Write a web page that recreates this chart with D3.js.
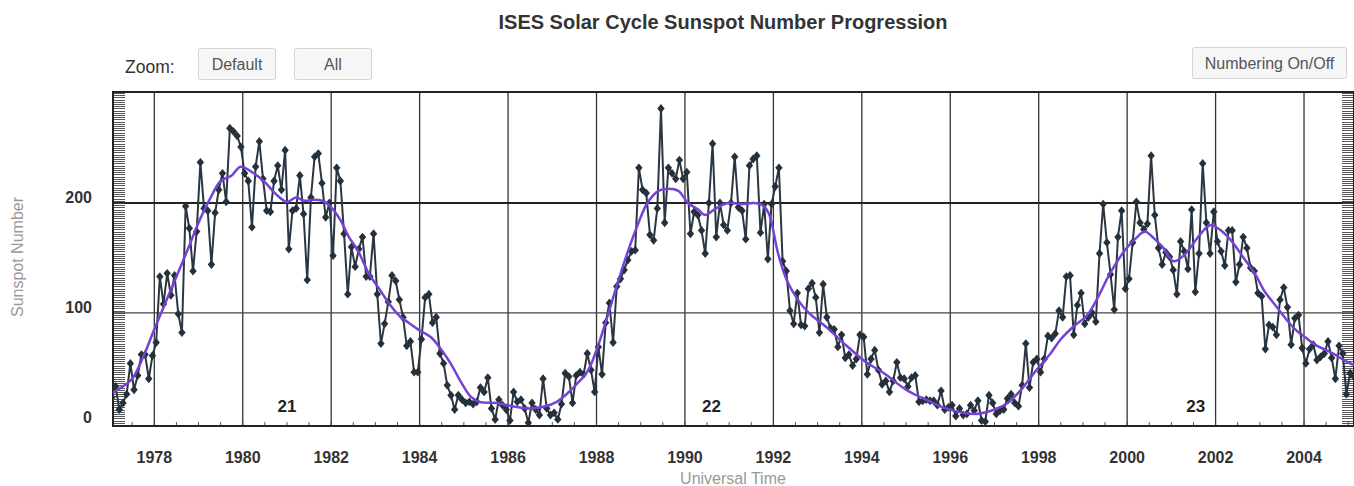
<!DOCTYPE html>
<html>
<head>
<meta charset="utf-8">
<script src="https://cdn.jsdelivr.net/npm/d3@7"></script>
<style>
  body { margin: 0; background: #fff; }
  svg text { font-family: "Liberation Sans", Arial, sans-serif; }
</style>
</head>
<body>
<svg id="chart" width="1354" height="486"></svg>
<script>
"use strict";

// monthly sunspot numbers, one row per year, starting Jan 1977
const startYear = 1977;
const monthlySunspots = [
    23, 33, 12, 18, 26, 54, 30, 43, 62, 62, 40, 61,            // 1977
    73, 133, 108, 136, 116, 134, 99, 82, 197, 177, 138, 174,   // 1978
    237, 195, 193, 144, 191, 212, 227, 201, 268, 265, 261, 251,// 1979
    227, 220, 178, 233, 256, 222, 193, 192, 220, 234, 212, 248,// 1980
    158, 193, 195, 225, 190, 130, 205, 242, 245, 218, 187, 200,// 1981
    152, 232, 220, 172, 117, 160, 142, 158, 169, 133, 133, 172,// 1982
    117, 72, 90, 110, 134, 129, 112, 96, 70, 74, 46, 46,       // 1983
    76, 114, 117, 91, 96, 63, 54, 34, 25, 12, 25, 21,          // 1984
    18, 19, 17, 19, 32, 28, 41, 13, 3, 21, 16, 12,             // 1985
    2, 28, 19, 21, 13, 0, 18, 12, 7, 40, 13, 7,                // 1986
    9, 3, 17, 45, 42, 18, 43, 46, 44, 63, 48, 28,              // 1987
    69, 44, 91, 109, 73, 124, 131, 139, 148, 156, 157, 232,    // 1988
    212, 209, 171, 166, 195, 286, 182, 232, 227, 222, 239, 222,// 1989
    228, 172, 192, 189, 175, 154, 200, 254, 169, 200, 180, 175,// 1990
    200, 242, 196, 193, 167, 234, 240, 243, 173, 199, 149, 199,// 1991
    215, 232, 147, 138, 102, 90, 118, 89, 88, 122, 127, 114,   // 1992
    82, 126, 96, 86, 85, 69, 80, 59, 62, 52, 58, 80,           // 1993
    78, 44, 58, 66, 48, 35, 38, 28, 38, 55, 41, 40,            // 1994
    33, 41, 43, 19, 20, 21, 20, 20, 16, 29, 12, 14,            // 1995
    16, 6, 13, 7, 8, 16, 11, 20, 2, 1, 25, 18,                 // 1996
    8, 11, 12, 22, 26, 18, 15, 34, 72, 32, 55, 58,             // 1997
    46, 58, 79, 77, 81, 102, 96, 133, 134, 80, 107, 118,       // 1998
    90, 96, 100, 92, 154, 199, 164, 135, 103, 169, 193, 122,   // 1999
    131, 164, 201, 182, 176, 181, 243, 189, 159, 144, 155, 151,// 2000
    139, 117, 165, 156, 140, 194, 119, 154, 236, 182, 154, 192,// 2001
    165, 156, 143, 175, 175, 128, 144, 169, 159, 141, 138, 118,// 2002
    115, 67, 89, 87, 80, 112, 123, 105, 71, 95, 98, 68,        // 2003
    54, 67, 71, 57, 60, 63, 74, 59, 40, 70, 63, 26,            // 2004
    45, 42                                                     // 2005
];

// smoothed (13-month) curve
const smoothYears = [
    1977.0, 1977.25, 1977.5, 1977.75, 1978.0, 1978.25, 1978.5, 1978.75, 1979.0, 1979.25,
    1979.5, 1979.75, 1979.95, 1980.25, 1980.5, 1980.75, 1981.0, 1981.2, 1981.4, 1981.6,
    1981.8, 1982.0, 1982.2, 1982.4, 1982.6, 1982.85, 1983.1, 1983.3, 1983.55, 1983.75,
    1984.0, 1984.25, 1984.5, 1984.7, 1984.95, 1985.15, 1985.35, 1985.75, 1986.1, 1986.5,
    1986.85, 1987.1, 1987.35, 1987.55, 1987.8, 1988.0, 1988.25, 1988.5, 1988.72, 1988.95,
    1989.15, 1989.4, 1989.6, 1989.85, 1990.07, 1990.3, 1990.45, 1990.7, 1990.97, 1991.3,
    1991.55, 1991.75, 1991.9, 1992.1, 1992.3, 1992.55, 1992.8, 1993.2, 1993.6, 1994.1,
    1994.5, 1995.0, 1995.5, 1995.9, 1996.3, 1996.6, 1997.0, 1997.3, 1997.6, 1997.95,
    1998.25, 1998.5, 1998.8, 1999.1, 1999.35, 1999.6, 1999.95, 2000.2, 2000.4, 2000.6,
    2000.8, 2001.05, 2001.3, 2001.55, 2001.75, 2001.9, 2002.15, 2002.35, 2002.6, 2002.9,
    2003.1, 2003.35, 2003.6, 2003.8, 2004.05, 2004.25, 2004.5, 2004.7, 2004.9, 2005.15
];
const smoothValues = [
    26, 32, 40, 60, 85, 109, 133, 157, 182, 203,
    220, 225, 233, 227, 219, 208, 201, 205, 202, 203,
    202, 196, 185, 169, 157, 136, 121, 109, 97, 91,
    84, 78, 66, 54, 36, 24, 19, 18, 15, 13,
    15, 19, 27, 35, 47, 66, 97, 130, 157, 182,
    200, 211, 213, 211, 200, 194, 189, 195, 200, 199,
    200, 198, 190, 155, 130, 112, 100, 87, 72, 55,
    45, 30, 20, 13, 9, 8, 12, 18, 30, 48,
    62, 76, 88, 98, 115, 135, 157, 168, 174, 168,
    160, 147, 153, 166, 176, 180, 174, 166, 152, 135,
    120, 107, 94, 85, 77, 71, 66, 62, 57, 52
];

const cycleNames = ["21", "22", "23"];
const cycleYears = [1981.0, 1990.6, 2001.55];

const xTickYears = [1978, 1980, 1982, 1984, 1986, 1988, 1990, 1992, 1994, 1996, 1998, 2000, 2002, 2004];
const yTickValues = [0, 100, 200];

const plot = { left: 113, right: 1354, top: 92, bottom: 426 };
const svg = d3.select("#chart");

const xScale = d3.scaleLinear().domain([1977.066, 2005.13]).range([plot.left, plot.right]);
const yScale = d3.scaleLinear().domain([-3, 301]).range([plot.bottom, plot.top]);

// title and controls
svg.append("text")
    .attr("x", 723).attr("y", 29)
    .attr("text-anchor", "middle")
    .attr("font-size", 20).attr("font-weight", "bold").attr("fill", "#333")
    .text("ISES Solar Cycle Sunspot Number Progression");

svg.append("text")
    .attr("x", 125).attr("y", 73)
    .attr("font-size", 17.5).attr("fill", "#333")
    .text("Zoom:");

function addButton(x, y, w, h, label) {
    let g = svg.append("g");
    g.append("rect")
        .attr("x", x).attr("y", y).attr("width", w).attr("height", h)
        .attr("rx", 2)
        .attr("fill", "#f6f6f6").attr("stroke", "#d4d4d4");
    g.append("text")
        .attr("x", x + w / 2).attr("y", y + h / 2 + 5.5)
        .attr("text-anchor", "middle")
        .attr("font-size", 16).attr("fill", "#555")
        .text(label);
}
addButton(198.5, 48.5, 77, 31, "Default");
addButton(294.5, 48.5, 77, 31, "All");
addButton(1192.5, 47.5, 154, 31, "Numbering On/Off");

// gridlines
svg.append("g")
    .selectAll("line")
    .data(xTickYears)
    .join("line")
        .attr("x1", d => xScale(d)).attr("x2", d => xScale(d))
        .attr("y1", plot.top).attr("y2", plot.bottom)
        .attr("stroke", "#333").attr("stroke-width", 1.3);

svg.append("g")
    .selectAll("line")
    .data(yTickValues.filter(v => v > 0))
    .join("line")
        .attr("x1", plot.left).attr("x2", plot.right)
        .attr("y1", d => yScale(d)).attr("y2", d => yScale(d))
        .attr("stroke", d => d == 200 ? "#222" : "#444")
        .attr("stroke-width", d => d == 200 ? 2 : 1.2);

// minor ticks
const minorY = d3.range(0, 301, 2);
const tickG = svg.append("g").attr("stroke", "#444").attr("stroke-width", 0.9);
tickG.selectAll("line.l")
    .data(minorY)
    .join("line")
        .attr("class", "l")
        .attr("x1", plot.left).attr("x2", plot.left + 12)
        .attr("y1", d => Math.round(yScale(d)) + 0.5).attr("y2", d => Math.round(yScale(d)) + 0.5);
tickG.selectAll("line.r")
    .data(minorY)
    .join("line")
        .attr("class", "r")
        .attr("x1", plot.right - 12).attr("x2", plot.right)
        .attr("y1", d => Math.round(yScale(d)) + 0.5).attr("y2", d => Math.round(yScale(d)) + 0.5);

const minorX = d3.range(1977.5, 2005.1, 0.5);
tickG.selectAll("line.b")
    .data(minorX)
    .join("line")
        .attr("class", "b")
        .attr("x1", d => xScale(d)).attr("x2", d => xScale(d))
        .attr("y1", plot.bottom - 4).attr("y2", plot.bottom);

// frame
svg.append("rect")
    .attr("x", plot.left).attr("y", plot.top)
    .attr("width", plot.right - plot.left).attr("height", plot.bottom - plot.top)
    .attr("fill", "none").attr("stroke", "#222").attr("stroke-width", 2);

// axis labels
svg.append("g")
    .selectAll("text")
    .data(xTickYears)
    .join("text")
        .attr("x", d => xScale(d)).attr("y", 463)
        .attr("text-anchor", "middle")
        .attr("font-size", 16).attr("font-weight", "bold").attr("fill", "#333")
        .text(d => d);

svg.append("g")
    .selectAll("text")
    .data(yTickValues)
    .join("text")
        .attr("x", 92).attr("y", d => yScale(d) + 0.5)
        .attr("text-anchor", "end")
        .attr("font-size", 16).attr("font-weight", "bold").attr("fill", "#333")
        .text(d => d);

svg.append("text")
    .attr("transform", "translate(23, 257) rotate(-90)")
    .attr("text-anchor", "middle")
    .attr("font-size", 16).attr("fill", "#999")
    .text("Sunspot Number");

svg.append("text")
    .attr("x", 733).attr("y", 484)
    .attr("text-anchor", "middle")
    .attr("font-size", 16).attr("fill", "#999")
    .text("Universal Time");

// cycle numbers
svg.append("g")
    .selectAll("text")
    .data(cycleNames)
    .join("text")
        .attr("x", (d, i) => xScale(cycleYears[i])).attr("y", yScale(10))
        .attr("text-anchor", "middle")
        .attr("font-size", 17).attr("font-weight", "bold").attr("fill", "#222")
        .text(d => d);

// data
svg.append("clipPath").attr("id", "clip")
    .append("rect")
        .attr("x", plot.left).attr("y", 60)
        .attr("width", plot.right - plot.left).attr("height", 400);

const monthly = monthlySunspots.map((v, i) => ({ t: startYear + (i + 0.5) / 12, v: v }));
const smooth = smoothYears.map((t, i) => ({ t: t, v: smoothValues[i] }));

const dataG = svg.append("g").attr("clip-path", "url(#clip)");

const line = d3.line().x(d => xScale(d.t)).y(d => yScale(d.v));
dataG.append("path")
    .datum(monthly)
    .attr("d", line)
    .attr("fill", "none").attr("stroke", "#2a3642").attr("stroke-width", 2);

dataG.selectAll("path.pt")
    .data(monthly)
    .join("path")
        .attr("class", "pt")
        .attr("d", "M0,-4.4L3.7,0L0,4.4L-3.7,0Z")
        .attr("transform", d => `translate(${xScale(d.t)},${yScale(d.v)})`)
        .attr("fill", "#24303b");

const smoothLine = d3.line().curve(d3.curveCatmullRom)
    .x(d => xScale(d.t)).y(d => yScale(d.v));
dataG.append("path")
    .datum(smooth)
    .attr("d", smoothLine)
    .attr("fill", "none").attr("stroke", "#7443d6").attr("stroke-width", 2.5);
</script>
</body>
</html>
